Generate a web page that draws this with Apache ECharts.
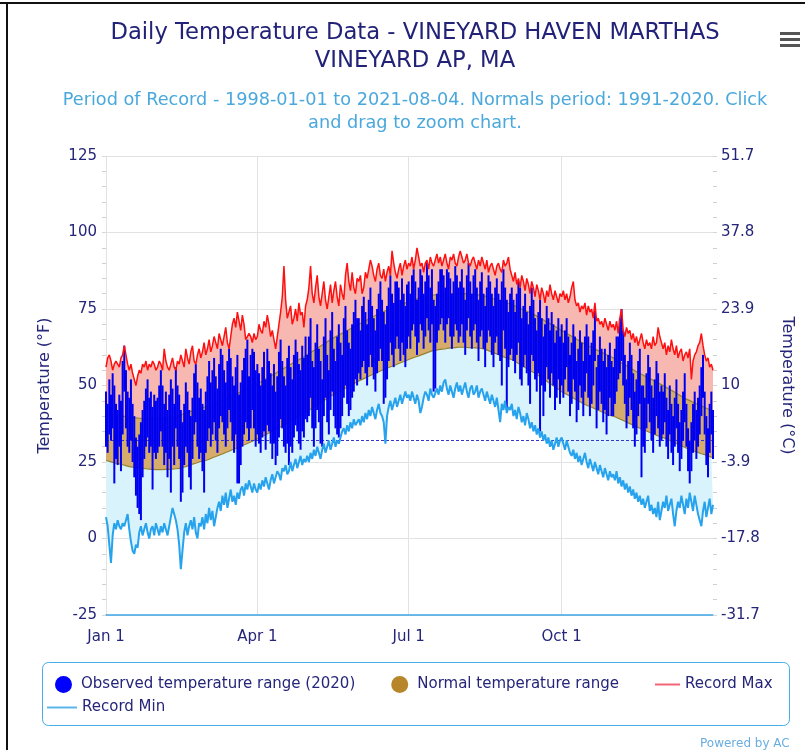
<!DOCTYPE html>
<html>
<head>
<meta charset="utf-8">
<script src="https://cdn.jsdelivr.net/npm/echarts@6/dist/echarts.min.js"></script>
<style>
html,body{margin:0;padding:0;background:#fff;}
#chart{width:805px;height:750px;}
</style>
</head>
<body>
<div id="chart"></div>
<script>
// ---------- axis / category definitions ----------
const monthNames = ['Jan','Feb','Mar','Apr','May','Jun','Jul','Aug','Sep','Oct','Nov','Dec'];
const monthLengths = [31,29,31,30,31,30,31,31,30,31,30,31];
const xTickLabels = ['Jan 1','Apr 1','Jul 1','Oct 1'];
const leftTickValues = [-25,0,25,50,75,100,125];
const rightTickLabels = ['-31.7','-17.8','-3.9','10','23.9','37.8','51.7'];
const freezingLine = 32;

// ---------- data (°F), one value per day of 2020 ----------
const recordMax = [
56,59,60,58,55,57,58,57,56,59,60,63,60,57,55,57,54,52,50,53,55,54,57,56,58,55,57,56,58,57,55,
56,58,57,55,62,58,56,55,57,59,56,55,58,57,60,58,56,62,59,57,61,63,58,57,60,62,59,61,64,
60,62,65,61,63,66,64,62,67,65,63,66,69,64,62,66,70,72,69,74,71,68,73,70,65,66,67,66,64,67,65,
66,70,68,67,71,69,73,70,66,68,65,62,66,70,74,79,89,78,72,74,76,70,72,75,71,77,73,74,69,76,
78,82,89,80,77,82,86,79,76,80,84,78,75,79,83,77,81,84,79,76,83,80,78,86,90,84,81,87,82,80,85,
84,86,80,82,87,85,88,91,89,86,84,88,90,86,85,88,84,87,89,86,94,90,87,85,88,90,86,89,91,88,
90,89,92,88,91,95,92,89,90,87,90,91,88,92,90,89,91,93,90,92,89,91,93,90,88,92,91,93,90,89,92,
94,92,90,91,93,90,89,91,92,90,88,91,89,92,90,88,91,87,89,90,88,86,89,90,88,87,91,89,90,92,88,
86,84,87,83,85,82,86,84,81,85,83,80,84,82,79,83,81,78,82,80,77,81,79,83,80,78,81,79,77,80,
79,81,78,80,77,79,82,84,78,76,77,74,76,75,77,73,76,74,75,72,77,71,72,70,71,69,72,70,68,71,69,
70,68,71,67,72,75,68,66,69,67,68,65,67,64,66,63,65,67,64,62,65,63,64,62,66,63,64,69,66,64,
62,64,60,63,61,65,62,60,63,59,61,62,58,60,61,59,62,52,58,60,61,63,64,67,63,60,58,59,56,57,55
];
const recordMin = [
7,4,-2,-8,1,5,3,6,4,3,5,4,6,8,3,-1,-4,-5,-2,-3,2,4,1,3,5,2,0,3,4,1,5,
3,1,4,2,5,3,1,4,7,10,8,6,3,-2,-10,-4,2,5,1,4,6,3,7,2,0,5,4,7,3,
8,5,10,6,9,4,7,10,12,9,14,11,15,10,13,16,12,14,11,15,13,16,17,14,18,16,19,17,15,18,16,
15,18,16,19,17,20,18,16,19,21,18,20,22,21,19,23,22,24,21,22,25,22,24,26,23,25,27,24,26,25,
27,25,28,26,29,27,30,28,26,29,31,28,30,32,29,31,33,30,32,31,33,35,36,34,37,35,38,36,39,37,38,
39,37,40,38,41,39,42,40,43,41,39,42,44,41,40,38,31,40,43,45,42,44,46,43,45,47,44,46,48,46,
47,45,48,46,44,47,45,41,43,46,48,47,45,49,47,46,46,49,47,50,48,51,52,49,47,50,48,46,49,51,48,
50,47,49,51,48,46,49,50,47,48,50,46,48,49,47,45,48,46,44,47,45,43,46,42,38,44,42,45,41,43,42,
44,40,42,39,43,41,38,40,37,41,39,36,38,35,37,34,36,33,35,32,34,31,33,30,32,29,31,33,30,32,
33,31,29,32,30,28,27,29,26,28,25,27,24,26,28,25,23,26,24,22,25,23,21,24,22,20,23,21,19,22,20,
21,19,22,18,20,17,19,16,18,15,17,14,16,13,15,12,14,11,13,10,12,14,9,11,8,10,7,12,6,9,
12,10,14,9,11,13,8,4,9,12,10,14,11,8,13,10,15,12,9,14,11,8,6,4,9,12,7,10,13,8,11
];
const normalHigh = [
41.0,40.9,40.8,40.7,40.6,40.5,40.4,40.3,40.2,40.1,40.0,39.9,39.8,39.7,39.6,39.5,39.5,39.4,39.4,39.3,39.3,39.2,39.2,39.2,39.1,39.1,39.1,39.0,39.0,39.0,39.0,
39.0,39.0,39.1,39.1,39.2,39.3,39.4,39.5,39.6,39.7,39.8,39.9,40.0,40.2,40.4,40.6,40.8,41.0,41.2,41.4,41.5,41.7,41.9,42.1,42.3,42.4,42.6,42.8,42.9,
43.0,43.2,43.4,43.6,43.8,44.0,44.2,44.4,44.6,44.8,45.0,45.2,45.4,45.7,46.0,46.3,46.5,46.8,47.1,47.3,47.6,47.9,48.1,48.4,48.7,48.9,49.2,49.5,49.7,50.0,50.2,
50.5,50.8,51.1,51.5,51.8,52.1,52.4,52.7,53.1,53.4,53.7,54.0,54.4,54.7,55.0,55.3,55.6,55.9,56.3,56.6,56.9,57.2,57.5,57.8,58.1,58.4,58.8,59.1,59.4,59.7,
60.0,60.4,60.7,61.1,61.4,61.8,62.1,62.5,62.9,63.2,63.6,63.9,64.3,64.6,65.0,65.3,65.6,65.9,66.2,66.5,66.8,67.1,67.4,67.6,67.9,68.2,68.5,68.8,69.1,69.4,69.7,
70.0,70.3,70.6,70.9,71.1,71.4,71.7,72.0,72.3,72.6,72.9,73.1,73.4,73.7,74.0,74.2,74.4,74.7,74.9,75.1,75.3,75.5,75.7,75.9,76.2,76.4,76.6,76.8,77.0,77.3,
77.5,77.7,77.8,78.0,78.1,78.3,78.4,78.6,78.7,78.9,79.0,79.1,79.2,79.4,79.5,79.5,79.6,79.6,79.7,79.7,79.8,79.8,79.8,79.9,79.9,79.9,80.0,80.0,80.0,80.0,80.0,
80.0,80.0,80.0,80.0,79.9,79.9,79.9,79.8,79.8,79.7,79.7,79.6,79.5,79.4,79.3,79.2,79.0,78.9,78.7,78.5,78.4,78.2,78.0,77.8,77.7,77.5,77.3,77.2,77.0,76.8,76.7,
76.5,76.3,76.0,75.8,75.5,75.3,75.0,74.8,74.5,74.3,74.0,73.8,73.5,73.3,73.0,72.7,72.4,72.1,71.8,71.4,71.1,70.8,70.5,70.2,69.9,69.6,69.3,68.9,68.6,68.3,
68.0,67.7,67.4,67.0,66.7,66.4,66.1,65.8,65.4,65.1,64.8,64.5,64.1,63.8,63.5,63.2,63.0,62.7,62.4,62.2,61.9,61.6,61.4,61.1,60.9,60.6,60.3,60.1,59.8,59.5,59.3,
59.0,58.7,58.4,58.0,57.7,57.4,57.1,56.8,56.4,56.1,55.8,55.5,55.1,54.8,54.5,54.2,53.9,53.7,53.4,53.1,52.8,52.5,52.3,52.0,51.7,51.4,51.1,50.8,50.6,50.3,
50.0,49.7,49.4,49.0,48.7,48.4,48.1,47.8,47.4,47.1,46.8,46.5,46.1,45.8,45.5,45.3,45.0,44.8,44.5,44.3,44.0,43.8,43.5,43.3,43.0,42.8,42.5,42.3,42.0,41.8,41.5
];
const normalLow = [
25.5,25.4,25.2,25.1,24.9,24.8,24.6,24.5,24.4,24.2,24.1,23.9,23.8,23.6,23.5,23.4,23.3,23.3,23.2,23.1,23.1,23.0,22.9,22.9,22.8,22.8,22.7,22.7,22.6,22.6,22.5,
22.5,22.5,22.5,22.5,22.5,22.6,22.6,22.6,22.7,22.7,22.8,22.8,22.9,22.9,23.0,23.2,23.4,23.5,23.7,23.9,24.1,24.3,24.4,24.6,24.8,25.0,25.1,25.3,25.4,
25.5,25.7,25.9,26.1,26.4,26.6,26.8,27.0,27.2,27.4,27.6,27.9,28.1,28.3,28.5,28.7,29.0,29.2,29.4,29.7,29.9,30.1,30.4,30.6,30.8,31.1,31.3,31.5,31.8,32.0,32.3,
32.5,32.8,33.1,33.4,33.6,33.9,34.2,34.5,34.8,35.1,35.4,35.6,35.9,36.2,36.5,36.8,37.1,37.4,37.8,38.1,38.4,38.7,39.0,39.3,39.6,39.9,40.3,40.6,40.9,41.2,
41.5,41.9,42.2,42.6,42.9,43.3,43.6,44.0,44.4,44.7,45.1,45.4,45.8,46.1,46.5,46.8,47.1,47.4,47.7,48.0,48.3,48.6,48.9,49.1,49.4,49.7,50.0,50.3,50.6,50.9,51.2,
51.5,51.8,52.0,52.3,52.5,52.8,53.0,53.3,53.5,53.8,54.0,54.3,54.5,54.8,55.0,55.2,55.4,55.7,55.9,56.1,56.3,56.5,56.7,56.9,57.2,57.4,57.6,57.8,58.0,58.3,
58.5,58.7,58.9,59.1,59.3,59.5,59.7,59.9,60.1,60.3,60.5,60.7,60.9,61.1,61.3,61.4,61.5,61.6,61.7,61.8,61.9,62.0,62.0,62.1,62.2,62.2,62.3,62.3,62.4,62.4,62.5,
62.5,62.5,62.5,62.5,62.5,62.4,62.4,62.4,62.3,62.3,62.2,62.2,62.1,62.1,62.0,61.8,61.6,61.4,61.2,60.9,60.7,60.5,60.3,60.1,59.8,59.6,59.4,59.2,59.0,58.8,58.7,
58.5,58.2,57.9,57.5,57.2,56.9,56.6,56.3,55.9,55.6,55.3,55.0,54.6,54.3,54.0,53.6,53.3,52.9,52.5,52.1,51.8,51.4,51.0,50.6,50.3,49.9,49.5,49.1,48.8,48.4,
48.0,47.7,47.4,47.1,46.8,46.5,46.2,45.9,45.6,45.3,45.0,44.7,44.4,44.1,43.8,43.6,43.3,43.1,42.9,42.6,42.4,42.2,41.9,41.7,41.4,41.2,41.0,40.7,40.5,40.3,40.1,
40.0,39.8,39.5,39.3,39.0,38.8,38.5,38.3,38.0,37.8,37.5,37.3,37.0,36.8,36.5,36.3,36.0,35.8,35.6,35.4,35.1,34.9,34.7,34.4,34.2,34.0,33.7,33.5,33.3,33.1,
33.0,32.8,32.5,32.3,32.0,31.8,31.5,31.3,31.0,30.8,30.5,30.3,30.0,29.8,29.5,29.3,29.1,28.9,28.7,28.5,28.3,28.1,27.9,27.7,27.6,27.4,27.2,27.0,26.8,26.6,26.5
];
const observedHigh = [
48,44,52,47,54,50,44,42,47,45,58,63,55,48,46,52,44,40,33,30,34,38,42,45,49,52,46,48,43,47,45,
46,50,55,50,44,48,42,47,52,49,44,56,50,47,42,38,44,51,48,42,40,46,54,57,51,46,49,44,42,
48,53,58,51,55,59,53,49,57,62,60,55,51,58,62,59,53,50,56,60,47,51,55,59,62,65,53,60,62,61,55,
57,54,50,56,61,52,62,58,54,50,57,48,53,61,65,58,53,50,59,63,56,52,60,65,61,57,55,63,59,66,
60,66,72,58,56,64,70,62,58,52,66,72,60,55,68,74,62,58,66,70,64,60,72,76,68,64,62,70,74,78,72,
72,68,76,79,74,70,78,82,76,72,68,75,80,84,78,74,70,76,82,86,80,77,84,84,82,78,85,80,76,83,
84,80,86,88,84,78,82,88,86,80,84,90,86,82,88,78,76,80,84,88,88,86,82,88,87,85,80,84,89,86,82,
84,88,82,78,86,90,84,80,86,88,82,78,84,87,80,76,82,86,84,80,76,82,85,80,78,84,88,82,78,74,80,
82,78,74,80,84,82,72,76,80,74,70,76,82,78,72,68,74,78,72,66,70,76,72,68,74,70,64,68,72,66,
70,64,68,72,66,60,64,70,66,58,62,68,64,58,66,70,66,60,64,68,76,56,60,66,62,58,62,56,60,64,58,
56,62,66,66,72,75,68,60,52,58,64,60,54,48,52,58,62,50,50,46,54,60,56,50,46,52,58,54,48,50,
48,54,46,42,50,44,40,46,52,44,38,42,48,54,44,36,32,38,44,48,42,46,50,56,60,48,40,36,44,48,42
];
const observedLow = [
30,28,34,32,36,18,26,24,30,22,34,48,36,30,28,32,25,20,14,10,8,6,20,26,30,33,28,30,16,28,26,
28,30,35,30,24,28,20,26,15,30,24,36,30,26,12,15,24,30,28,20,16,26,34,38,30,26,28,22,15,
28,32,36,30,34,38,32,28,36,40,38,34,30,36,42,38,32,28,34,18,18,24,30,34,38,36,32,36,42,36,30,
34,31,28,33,35,29,37,35,31,26,31,24,27,33,39,36,30,28,31,24,30,28,33,37,35,31,29,35,33,39,
38,40,46,36,30,36,42,38,31,30,40,46,38,34,42,48,40,36,34,33,36,40,46,50,44,40,42,46,48,52,50,
54,52,56,58,54,50,56,60,56,52,48,54,58,62,58,44,46,52,58,64,60,56,62,66,62,58,64,60,56,62,
66,62,68,70,66,60,64,70,68,62,66,72,68,64,70,48,49,64,68,70,72,68,64,70,72,66,62,66,70,68,64,
66,70,64,60,68,72,66,62,68,70,64,58,66,68,62,56,64,68,66,60,56,64,66,60,58,50,68,62,42,56,60,
62,58,54,60,64,52,50,56,60,54,50,44,60,58,52,48,54,35,50,40,48,56,52,46,54,50,42,46,52,44,
50,46,52,56,48,40,44,52,48,38,42,50,46,40,48,54,46,40,44,50,58,36,42,48,44,38,42,34,40,46,40,
40,44,48,52,54,58,50,44,36,40,46,42,36,30,34,40,44,20,30,28,36,44,38,32,28,34,40,36,30,32,
34,38,30,26,34,28,24,30,36,28,22,26,32,38,30,22,18,22,28,32,26,30,34,40,46,34,24,20,28,34,26
];

// ---------- derived tables for the library ----------
const categories = [];
monthNames.forEach((m, mi) => { for (let d = 1; d <= monthLengths[mi]; d++) categories.push(m + ' ' + d); });
const bandLow = normalLow.map((v, i) => +(v - recordMin[i]).toFixed(1));
const bandNormal = normalHigh.map((v, i) => +(v - normalLow[i]).toFixed(1));
const bandHigh = recordMax.map((v, i) => +(v - normalHigh[i]).toFixed(1));
const observed = observedHigh.map((v, i) => [i, observedLow[i], v]);

const FONT = 'DejaVu Sans';
const NAVY = '#25257a';
const isTick = (idx, val) => xTickLabels.indexOf(val) >= 0;

const chart = echarts.init(document.getElementById('chart'), null, {renderer: 'canvas'});
const bandBase = {type: 'line', stack: 'bands', stackStrategy: 'all', symbol: 'none', silent: true,
  lineStyle: {width: 0, opacity: 0}, z: 1, animation: false};

chart.setOption({
  animation: false,
  backgroundColor: '#ffffff',
  title: {
    text: 'Daily Temperature Data - VINEYARD HAVEN MARTHAS\nVINEYARD AP, MA',
    subtext: 'Period of Record - 1998-01-01 to 2021-08-04. Normals period: 1991-2020. Click\nand drag to zoom chart.',
    left: 415, top: 19, textAlign: 'center', padding: 0, itemGap: 14,
    textStyle: {fontFamily: FONT, fontSize: 22.7, fontWeight: 'normal', color: '#222278', lineHeight: 28},
    subtextStyle: {fontFamily: FONT, fontSize: 17.7, color: '#4aa8dc', lineHeight: 23}
  },
  legend: [
    {left: 55, top: 676, padding: 0, itemGap: 36, itemWidth: 25, itemHeight: 17, selectedMode: false,
     textStyle: {fontFamily: FONT, fontSize: 15, color: NAVY},
     data: [
       {name: 'Observed temperature range (2020)', icon: 'circle', itemStyle: {color: '#0000ff'}},
       {name: 'Normal temperature range', icon: 'circle', itemStyle: {color: '#b8862a'}},
       {name: 'Record Max', icon: 'path://M0,0H25V2H0Z', itemStyle: {color: '#f26476'}}
     ]},
    {left: 47, top: 700, padding: 0, itemWidth: 30, itemHeight: 17, selectedMode: false,
     textStyle: {fontFamily: FONT, fontSize: 15, color: NAVY},
     data: [{name: 'Record Min', icon: 'path://M0,0H30V2H0Z', itemStyle: {color: '#5ab6ea'}}]}
  ],
  grid: {left: 106, right: 92, top: 156, bottom: 135, containLabel: false},
  xAxis: {
    type: 'category', data: categories, boundaryGap: false,
    axisLine: {onZero: false, lineStyle: {color: '#3ea6e6', width: 1.5}},
    axisTick: {show: false},
    axisLabel: {interval: isTick, color: NAVY, fontFamily: FONT, fontSize: 15, margin: 15},
    splitLine: {show: true, interval: isTick, lineStyle: {color: '#e2e2e2'}}
  },
  yAxis: [
    {type: 'value', min: leftTickValues[0], max: leftTickValues[leftTickValues.length - 1], interval: 25, position: 'left',
     name: 'Temperature (°F)', nameLocation: 'middle', nameGap: 53,
     nameTextStyle: {color: NAVY, fontFamily: FONT, fontSize: 16},
     axisLine: {show: false},
     axisTick: {show: true, length: 4, lineStyle: {color: '#d6d6d6'}},
     minorTick: {show: true, splitNumber: 5, length: 4, lineStyle: {color: '#cfcfcf'}},
     axisLabel: {color: NAVY, fontFamily: FONT, fontSize: 15, margin: 9},
     splitLine: {lineStyle: {color: '#e2e2e2'}}},
    {type: 'value', min: leftTickValues[0], max: leftTickValues[leftTickValues.length - 1], interval: 25, position: 'right',
     name: 'Temperature (°C)', nameLocation: 'middle', nameGap: 66, nameRotate: -90,
     nameTextStyle: {color: NAVY, fontFamily: FONT, fontSize: 16},
     axisLine: {show: false},
     axisTick: {show: true, length: 4, lineStyle: {color: '#d6d6d6'}},
     minorTick: {show: true, splitNumber: 5, length: 4, lineStyle: {color: '#cfcfcf'}},
     axisLabel: {color: NAVY, fontFamily: FONT, fontSize: 15, margin: 8,
       formatter: v => rightTickLabels[leftTickValues.indexOf(v)]},
     splitLine: {show: false}}
  ],
  series: [
    Object.assign({}, bandBase, {name: 'base', data: recordMin}),
    Object.assign({}, bandBase, {name: 'lowBand', data: bandLow, areaStyle: {color: '#d8f3fc', opacity: 1}}),
    Object.assign({}, bandBase, {name: 'Normal temperature range', data: bandNormal, areaStyle: {color: '#d6ac6c', opacity: 1},
      itemStyle: {color: '#b8862a'},
      markLine: {silent: true, symbol: 'none', label: {show: false}, animation: false,
        lineStyle: {color: '#3535c8', type: [3, 2], width: 1}, data: [{yAxis: freezingLine}]}}),
    Object.assign({}, bandBase, {name: 'highBand', data: bandHigh, areaStyle: {color: '#f7b8b1', opacity: 1}}),
    {type: 'line', name: 'normHighEdge', data: normalHigh, symbol: 'none', silent: true, z: 2,
     lineStyle: {color: '#958230', width: 1.2}},
    {type: 'line', name: 'normLowEdge', data: normalLow, symbol: 'none', silent: true, z: 2,
     lineStyle: {color: '#958230', width: 1.2}},
    {type: 'custom', name: 'Observed temperature range (2020)', data: observed, z: 10,
     encode: {x: 0, y: [1, 2]}, itemStyle: {color: '#0000ff'},
     renderItem: function (params, api) {
       const lo = api.coord([api.value(0), api.value(1)]);
       const hi = api.coord([api.value(0), api.value(2)]);
       const w = 2;
       return {type: 'rect', shape: {x: lo[0] - w / 2, y: hi[1], width: w, height: lo[1] - hi[1]},
               style: {fill: '#0000f0'}};
     }},
    {type: 'line', name: 'Record Min', data: recordMin, symbol: 'none', z: 11,
     itemStyle: {color: '#5ab6ea'}, lineStyle: {color: '#27a3ee', width: 2}},
    {type: 'line', name: 'Record Max', data: recordMax, symbol: 'none', z: 11,
     itemStyle: {color: '#f26476'}, lineStyle: {color: '#ff1010', width: 1.5}}
  ],
  graphic: [
    {type: 'rect', z: 0, shape: {x: 42.5, y: 662.5, width: 747, height: 63, r: 6},
     style: {fill: 'none', stroke: '#45aee6', lineWidth: 1}},
    {type: 'rect', shape: {x: 780, y: 32, width: 20, height: 3}, style: {fill: '#555'}},
    {type: 'rect', shape: {x: 780, y: 38, width: 20, height: 3}, style: {fill: '#555'}},
    {type: 'rect', shape: {x: 780, y: 44, width: 20, height: 3}, style: {fill: '#555'}},
    {type: 'text', style: {x: 700, y: 738, text: 'Powered by AC', fill: '#6aaee0', font: '12px "DejaVu Sans"'}},
    {type: 'line', shape: {x1: 0, y1: 3, x2: 805, y2: 3}, style: {stroke: '#111', lineWidth: 2}},
    {type: 'line', shape: {x1: 7, y1: 3, x2: 7, y2: 750}, style: {stroke: '#111', lineWidth: 2}}
  ]
});
</script>
</body>
</html>
